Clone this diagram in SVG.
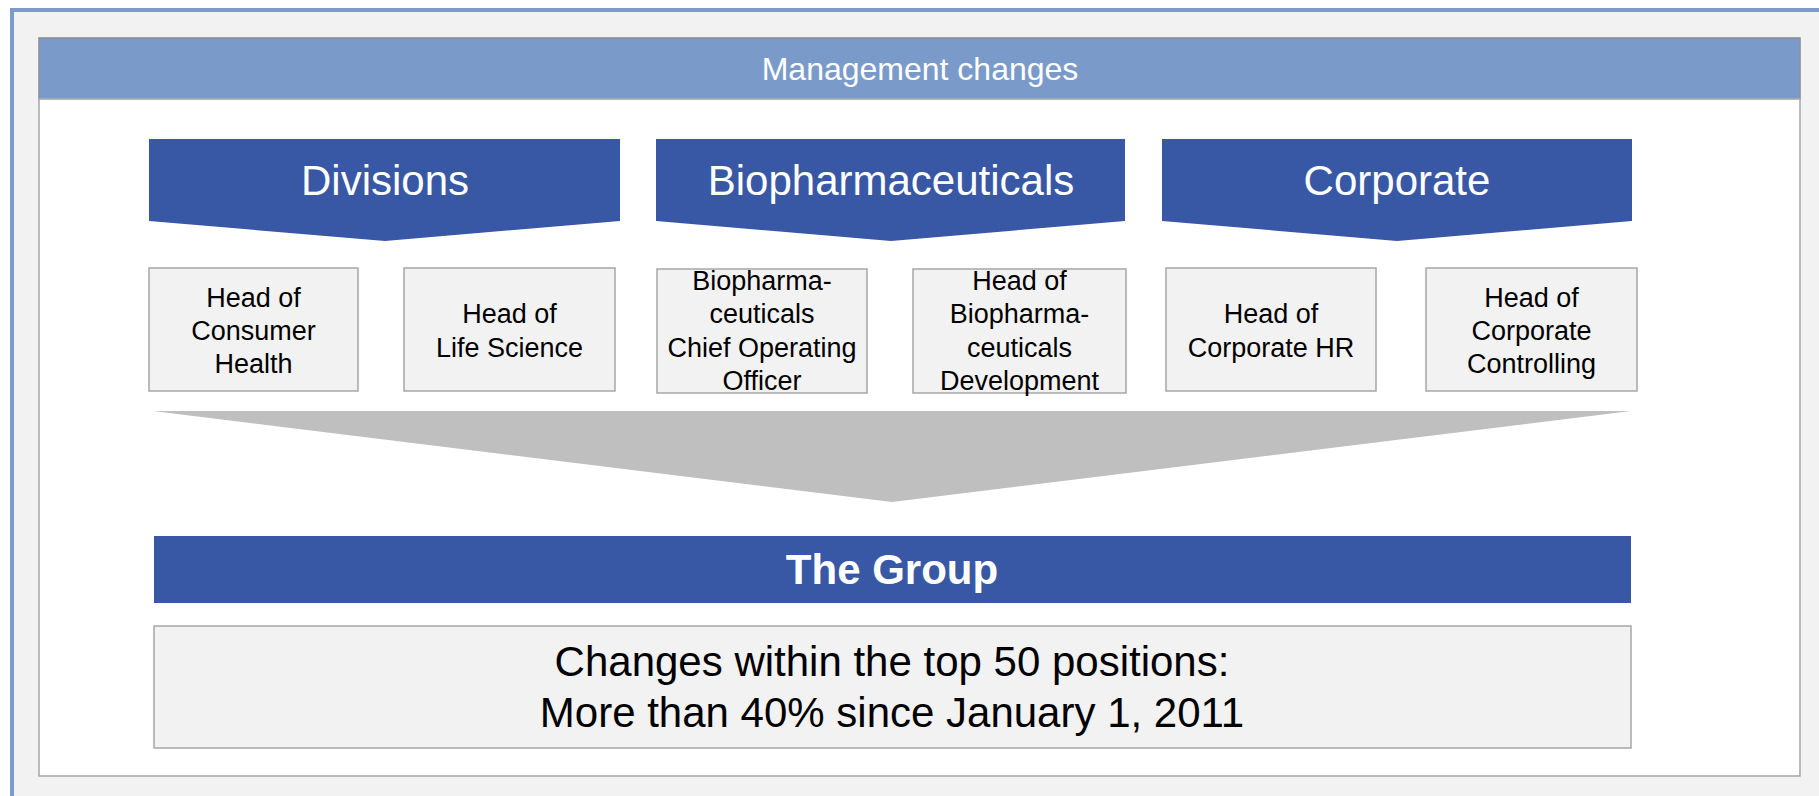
<svg xmlns="http://www.w3.org/2000/svg" width="1819" height="796" viewBox="0 0 1819 796">
<style>
.banner{fill:#3858a6}
.box{fill:#f2f2f2;stroke:#a6a6a6;stroke-width:1.5}
.bt{font-family:"Liberation Sans",Arial,sans-serif;font-size:42px;fill:#ffffff;text-anchor:middle}
.nt{font-family:"Liberation Sans",Arial,sans-serif;font-size:27px;fill:#000000;text-anchor:middle}
</style>
<rect x="0" y="0" width="1819" height="796" fill="#ffffff"/>
<rect x="12" y="10" width="1830" height="820" fill="#f2f2f2" stroke="#7b9bcb" stroke-width="4"/>
<g id="panel">
<rect x="39" y="38" width="1761" height="738" fill="#ffffff" stroke="#a6a6a6" stroke-width="1.5"/>
<rect x="39" y="38" width="1761" height="61" fill="#7a9bca" stroke="#8c8c8c" stroke-width="1"/>
<line x1="39" y1="99" x2="1800" y2="99" stroke="#b0b0b0" stroke-width="1.5"/>
<text x="920" y="80" font-family="'Liberation Sans',Arial,sans-serif" font-size="32" fill="#ffffff" text-anchor="middle">Management changes</text>
</g>
<g id="divisions">
<polygon class="banner" points="149,139 620,139 620,221 385,241 149,221"/>
<text class="bt" x="385" y="195">Divisions</text>
</g>
<g id="biopharmaceuticals">
<polygon class="banner" points="656,139 1125,139 1125,221 891,241 656,221"/>
<text class="bt" x="891" y="195">Biopharmaceuticals</text>
</g>
<g id="corporate">
<polygon class="banner" points="1162,139 1632,139 1632,221 1397,241 1162,221"/>
<text class="bt" x="1397" y="195">Corporate</text>
</g>
<g id="head-consumer-health">
<rect class="box" x="149" y="268" width="209" height="123"/>
<text class="nt" x="253.5" y="307">Head of</text>
<text class="nt" x="253.5" y="340">Consumer</text>
<text class="nt" x="253.5" y="373">Health</text>
</g>
<g id="head-life-science">
<rect class="box" x="404" y="268" width="211" height="123"/>
<text class="nt" x="509.5" y="323">Head of</text>
<text class="nt" x="509.5" y="357">Life Science</text>
</g>
<g id="biopharma-coo">
<rect class="box" x="657" y="269" width="210" height="124"/>
<text class="nt" x="762" y="290">Biopharma-</text>
<text class="nt" x="762" y="323">ceuticals</text>
<text class="nt" x="762" y="357">Chief Operating</text>
<text class="nt" x="762" y="390">Officer</text>
</g>
<g id="head-biopharma-development">
<rect class="box" x="913" y="269" width="213" height="124"/>
<text class="nt" x="1019.5" y="290">Head of</text>
<text class="nt" x="1019.5" y="323">Biopharma-</text>
<text class="nt" x="1019.5" y="357">ceuticals</text>
<text class="nt" x="1019.5" y="390">Development</text>
</g>
<g id="head-corporate-hr">
<rect class="box" x="1166" y="268" width="210" height="123"/>
<text class="nt" x="1271" y="323">Head of</text>
<text class="nt" x="1271" y="357">Corporate HR</text>
</g>
<g id="head-corporate-controlling">
<rect class="box" x="1426" y="268" width="211" height="123"/>
<text class="nt" x="1531.5" y="307">Head of</text>
<text class="nt" x="1531.5" y="340">Corporate</text>
<text class="nt" x="1531.5" y="373">Controlling</text>
</g>
<g id="connectors">
<polygon points="153,411 1631,411 892,502" fill="#bfbfbf"/>
</g>
<g id="the-group">
<rect class="banner" x="154" y="536" width="1477" height="67"/>
<text class="bt" x="892" y="584" font-weight="bold">The Group</text>
</g>
<g id="changes">
<rect class="box" x="154" y="626" width="1477" height="122"/>
<text x="892" y="676" font-family="'Liberation Sans',Arial,sans-serif" font-size="42" fill="#000000" text-anchor="middle">Changes within the top 50 positions:</text>
<text x="892" y="727" font-family="'Liberation Sans',Arial,sans-serif" font-size="42" fill="#000000" text-anchor="middle">More than 40% since January 1, 2011</text>
</g>
</svg>
